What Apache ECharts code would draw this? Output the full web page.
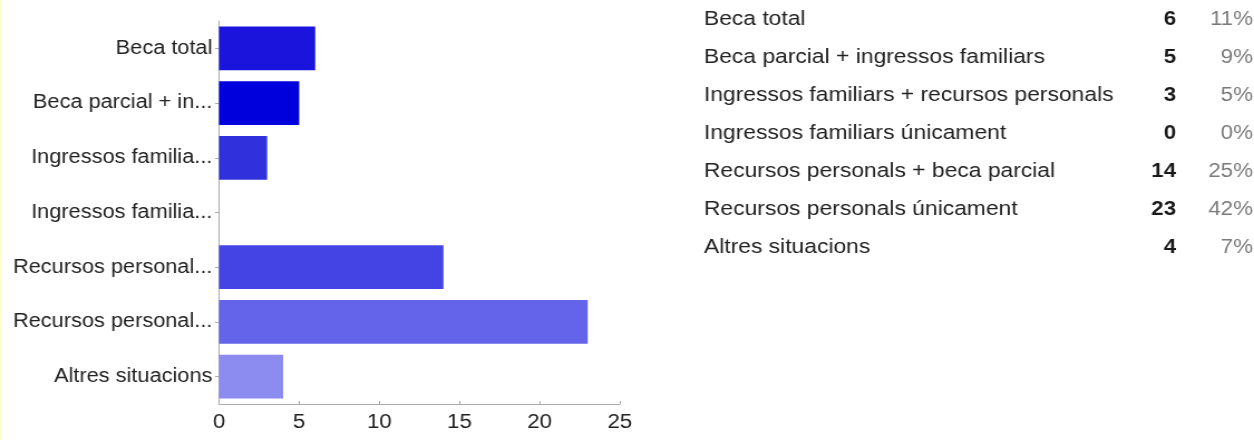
<!DOCTYPE html>
<html>
<head>
<meta charset="utf-8">
<script src="https://cdn.jsdelivr.net/npm/echarts@6/dist/echarts.min.js"></script>
<style>
html,body{margin:0;padding:0;background:#fff;overflow:hidden;}
#wrap{position:relative;width:1254px;height:440px;overflow:hidden;background:#fff;}
#strip{position:absolute;left:0;top:0;width:2px;height:440px;background:#ffffcc;z-index:2;}
#c{position:absolute;left:0;top:0;width:1125px;height:440px;transform:scaleX(1.1147);transform-origin:0 0;}
</style>
</head>
<body>
<div id="wrap"><div id="c"></div><div id="strip"></div></div>
<script>
const axisLabels = ['Beca total','Beca parcial + in...','Ingressos familia...','Ingressos familia...','Recursos personal...','Recursos personal...','Altres situacions'];
const fullLabels = ['Beca total','Beca parcial + ingressos familiars','Ingressos familiars + recursos personals','Ingressos familiars únicament','Recursos personals + beca parcial','Recursos personals únicament','Altres situacions'];
const counts = [6,5,3,0,14,23,4];
const percents = ['11%','9%','5%','0%','25%','42%','7%'];
const barColors = ['#1a14dd','#0000dd','#3030dd','#3a3ae0','#4444e4','#6464ea','#8c8cf0'];
const xTicks = [0,5,10,15,20,25];

const chart = echarts.init(document.getElementById('c'), null, {renderer:'canvas'});
const font = 'Arial, "Liberation Sans", sans-serif';
const rowY0 = 19.7, rowStep = 37.93;
const graphics = [];
fullLabels.forEach((t,i)=>{
  const y = rowY0 + i*rowStep;
  graphics.push({type:'text', x:631.5, y:y, style:{text:t, font:'20.5px '+font, fill:'#222', textVerticalAlign:'middle'}});
  graphics.push({type:'text', x:1055, y:y, style:{text:String(counts[i]), font:'bold 20px '+font, fill:'#1a1a1a', textAlign:'right', textVerticalAlign:'middle'}});
  graphics.push({type:'text', x:1124, y:y, style:{text:percents[i], font:'20px '+font, fill:'#7a7a7a', textAlign:'right', textVerticalAlign:'middle'}});
});

chart.setOption({
  animation:false,
  textStyle:{fontFamily:font},
  grid:{left:196.5, right:569, top:21, bottom:36, containLabel:false},
  xAxis:{type:'value', min:0, max:25, interval:5,
    axisLine:{show:true, lineStyle:{color:'#aaa'}},
    axisTick:{show:true, inside:true, length:3, lineStyle:{color:'#aaa'}},
    splitLine:{show:false},
    axisLabel:{color:'#222', fontSize:20, margin:8, formatter:v=>xTicks.includes(v)?String(v):''}
  },
  yAxis:{type:'category', inverse:true, data:axisLabels,
    axisLine:{show:true, lineStyle:{color:'#aaa'}},
    axisTick:{show:true, alignWithLabel:true, length:3.6, lineStyle:{color:'#aaa'}},
    axisLabel:{color:'#222', fontSize:19.5, margin:6}
  },
  series:[{type:'bar', barCategoryGap:'20%',
    data:counts.map((v,i)=>({value:v, itemStyle:{color:barColors[i]}}))
  }],
  graphic:graphics
});
</script>
</body>
</html>
